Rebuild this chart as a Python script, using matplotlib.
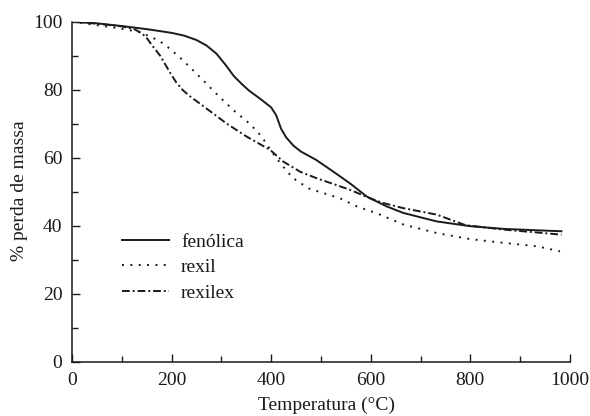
import matplotlib
matplotlib.use("Agg")
import matplotlib.pyplot as plt
from matplotlib.ticker import MultipleLocator

# Thermogravimetric curves (temperature in °C, % mass)
t_fenolica = [0, 50, 100, 150, 200, 225, 250, 270, 290, 310, 325, 340, 355,
              380, 400, 410, 420, 430, 445, 460, 490, 525, 558, 592, 632,
              665, 732, 799, 866, 930, 983]
m_fenolica = [100, 99.5, 98.7, 97.8, 96.7, 95.9, 94.6, 93.0, 90.6, 87.0,
              84.0, 81.8, 79.8, 77.1, 74.8, 72.5, 68.5, 66.0, 63.5, 61.8,
              59.4, 55.9, 52.5, 48.6, 45.7, 43.8, 41.3, 39.9, 39.1, 38.7,
              38.4]

t_rexil = [0, 43, 96, 137, 163, 177, 197, 223, 257, 290, 324, 357, 381, 401,
           421, 444, 475, 505, 538, 572, 612, 665, 732, 799, 866, 933, 980]
m_rexil = [100, 99.1, 98.0, 96.9, 95.2, 94.2, 92.0, 88.6, 83.7, 78.8, 74.0,
           70.0, 66.2, 61.8, 57.9, 54.0, 51.0, 49.6, 48.1, 45.7, 43.7, 40.4,
           37.9, 36.1, 35.0, 34.0, 32.5]

t_rexilex = [0, 50, 100, 125, 140, 150, 160, 177, 197, 210, 223, 240, 257,
             311, 351, 398, 424, 458, 491, 558, 600, 625, 665, 732, 790, 866,
             983]
m_rexilex = [100, 99.4, 98.6, 97.8, 96.6, 95.2, 93.2, 90.0, 85.0, 82.0,
             79.8, 77.7, 75.9, 70.0, 66.2, 62.3, 58.9, 55.9, 54.0, 50.6,
             48.0, 46.7, 45.2, 43.3, 40.2, 38.9, 37.4]

plt.rcParams["font.family"] = ["Liberation Serif", "DejaVu Serif"]
plt.rcParams["font.size"] = 14

fig = plt.figure(figsize=(5.9, 4.16), dpi=100)
ax = fig.add_axes([0.122, 0.130, 0.844, 0.818])

lw = 1.4
ax.plot(t_fenolica, m_fenolica, color="#1a1a1a", lw=lw, ls="-",
        label="fenólica")
ax.plot(t_rexil, m_rexil, color="#1a1a1a", lw=lw, ls=(0, (1, 3.3)),
        label="rexil")
ax.plot(t_rexilex, m_rexilex, color="#1a1a1a", lw=lw,
        ls=(0, (4, 1.5, 1, 1.5)), label="rexilex")

ax.set_xlim(0, 1000)
ax.set_ylim(0, 100)
ax.xaxis.set_major_locator(MultipleLocator(200))
ax.xaxis.set_minor_locator(MultipleLocator(100))
ax.yaxis.set_major_locator(MultipleLocator(20))
ax.yaxis.set_minor_locator(MultipleLocator(10))

for side in ("top", "right"):
    ax.spines[side].set_visible(False)
for side in ("left", "bottom"):
    ax.spines[side].set_linewidth(1.1)
    ax.spines[side].set_color("#1a1a1a")

ax.tick_params(which="major", direction="in", length=6, width=1.0,
               colors="#1a1a1a", labelcolor="#1a1a1a")
ax.tick_params(which="minor", direction="in", length=4.5, width=1.0,
               colors="#1a1a1a")
ax.tick_params(axis="x", which="major", pad=7)
ax.tick_params(axis="y", which="major", pad=7)

ax.set_xlabel("Temperatura (°C)", color="#1a1a1a")
ax.set_ylabel("% perda de massa", color="#1a1a1a")
ax.xaxis.set_label_coords(0.512, -0.103, transform=ax.transAxes)
ax.yaxis.set_label_coords(-0.088, 0.503, transform=ax.transAxes)

leg = ax.legend(loc="upper left", bbox_to_anchor=(0.100, 0.378),
                frameon=False, borderpad=0, borderaxespad=0,
                handlelength=2.45, handletextpad=0.6, labelspacing=0.4)
for txt in leg.get_texts():
    txt.set_color("#1a1a1a")

fig.savefig("out.png", dpi=100)
